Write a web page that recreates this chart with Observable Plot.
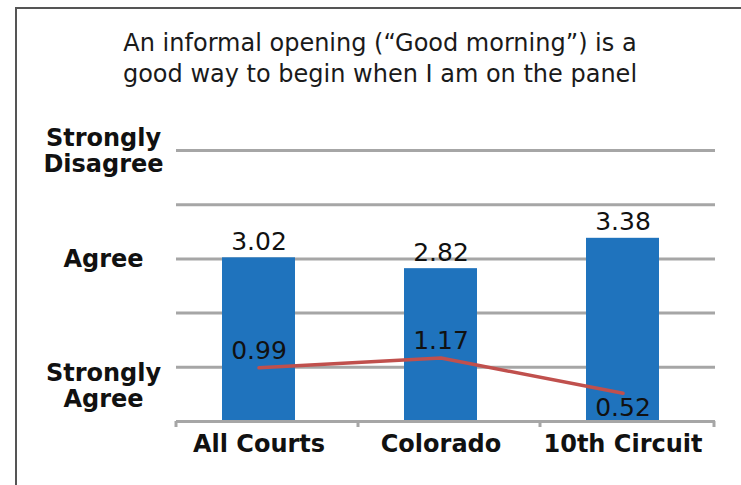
<!DOCTYPE html>
<html><head><meta charset="utf-8">
<script src="https://cdn.jsdelivr.net/npm/d3@7"></script>
<script src="https://cdn.jsdelivr.net/npm/@observablehq/plot@0.6"></script>
<style>
html,body{margin:0;padding:0;background:#fff;overflow:hidden;}
#wrap{position:relative;width:741px;height:485px;}
#frame{position:absolute;left:15px;top:7px;right:0;bottom:0;border-top:2px solid #555;border-left:2px solid #555;}
#title{position:absolute;left:80px;width:600px;top:28px;text-align:center;font-family:"DejaVu Sans";font-size:24px;line-height:31px;color:#1a1a1a;white-space:nowrap;}
#chart{position:absolute;left:0;top:0;}
</style></head><body>
<div id="wrap"><div id="frame"></div><div id="chart"></div><div id="title">An informal opening (“Good morning”) is a<br>good way to begin when I am on the panel</div></div>
<script>
const categories = ["All Courts", "Colorado", "10th Circuit"];
const barValues = [3.02, 2.82, 3.38];
const lineValues = [0.99, 1.17, 0.52];
const tickValues = [5, 3, 1];
const tickLabels = ["Strongly\nDisagree", "Agree", "Strongly\nAgree"];
const gridValues = [1, 2, 3, 4, 5];

const data = categories.map((c, i) => ({cat: c, bar: barValues[i], line: lineValues[i]}));
const ticks = tickValues.map((v, i) => ({v, label: tickLabels[i]}));

const grey = "#a6a6a6";
const ink = "#111";
const chart = Plot.plot({
  width: 741, height: 485,
  marginTop: 150, marginBottom: 64, marginLeft: 176, marginRight: 26,
  style: {background: "transparent", overflow: "visible", fontFamily: "DejaVu Sans"},
  x: {domain: categories, paddingInner: 0.6, paddingOuter: 0.2767, align: 0.446, axis: null},
  y: {domain: [0, 5], axis: null},
  marks: [
    Plot.ruleY(gridValues, {stroke: grey, strokeWidth: 3}),
    Plot.barY(data, {x: "cat", y: "bar", fill: "#1f73bd"}),
    Plot.ruleY([0], {stroke: grey, strokeWidth: 3}),
    Plot.ruleX(categories, {x: d => d, y1: 0, y2: 0, insetBottom: -6, dx: -83, stroke: grey, strokeWidth: 3}),
    Plot.ruleX(categories.slice(-1), {x: d => d, y1: 0, y2: 0, insetBottom: -6, dx: 91, stroke: grey, strokeWidth: 3}),
    Plot.line(data, {x: "cat", y: "line", stroke: "#c0504d", strokeWidth: 3.5}),
    Plot.text(data, {x: "cat", y: "bar", text: d => d.bar.toFixed(2), lineAnchor: "bottom", dy: -8, fontSize: 25, fill: ink}),
    Plot.text(data.slice(0, 2), {x: "cat", y: "line", text: d => d.line.toFixed(2), lineAnchor: "bottom", dy: -9, fontSize: 25, fill: ink}),
    Plot.text(data.slice(2), {x: "cat", y: "line", text: d => d.line.toFixed(2), lineAnchor: "top", dy: 5, fontSize: 25, fill: ink}),
    Plot.text(categories, {x: d => d, text: d => d, frameAnchor: "bottom", lineAnchor: "top", dy: 13, fontSize: 24, fontWeight: "bold", fill: ink}),
    Plot.text(ticks.slice(0, 2), {y: "v", text: "label", frameAnchor: "left", dx: -73, textAnchor: "middle", lineHeight: 1.08, fontSize: 24, fontWeight: "bold", fill: ink}),
    Plot.text(ticks.slice(2), {y: "v", text: "label", frameAnchor: "left", dx: -73, dy: 18, textAnchor: "middle", lineHeight: 1.08, fontSize: 24, fontWeight: "bold", fill: ink})
  ]
});
document.getElementById("chart").appendChild(chart);
</script>
</body></html>
